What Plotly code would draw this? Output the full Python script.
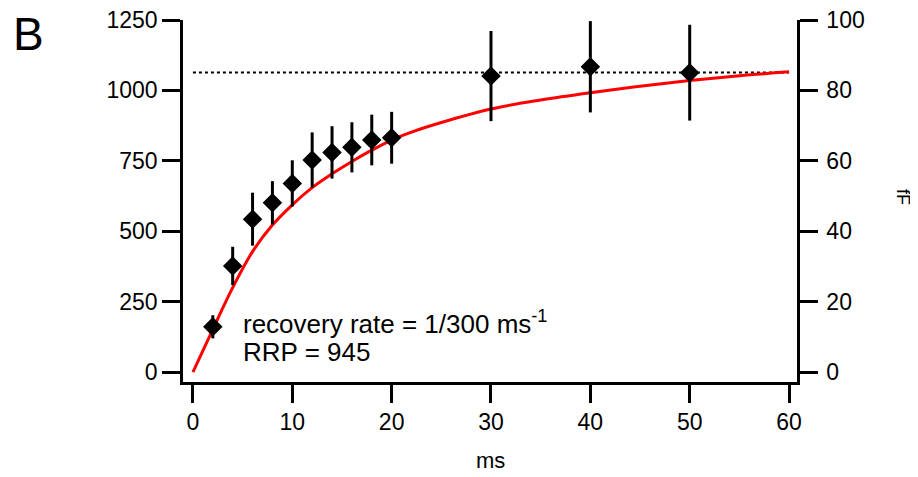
import plotly.graph_objects as go

# Measured recovery data (ms vs. response on left axis)
t_ms = [2, 4, 6, 8, 10, 12, 14, 16, 18, 20, 30, 40, 50]
resp = [161, 377, 543, 601, 670, 753, 780, 798, 824, 832, 1051, 1084, 1063]
resp_err = [41, 68, 94, 77, 82, 98, 93, 89, 90, 92, 160, 162, 170]

# Fit curve
fit_t = [0, 2, 4, 6, 8, 10, 12, 14, 16, 18, 20, 22, 25, 30, 35, 40, 45, 50, 55, 60]
fit_y = [0, 152, 300, 428, 522, 594, 655, 704, 748, 788, 824, 852, 886, 934, 966, 992, 1015, 1035, 1052, 1066]

# Plateau line
plateau_t = [0, 60]
plateau_y = [1064, 1064]

x_ticks = [0, 10, 20, 30, 40, 50, 60]
y_ticks = [0, 250, 500, 750, 1000, 1250]
y2_ticks = [0, 20, 40, 60, 80, 100]

FONT = "Arial, 'Liberation Sans', Helvetica, sans-serif"

fig = go.Figure()
fig.add_trace(go.Scatter(x=plateau_t, y=plateau_y, mode="lines",
                         line=dict(color="black", width=2, dash="dot"),
                         showlegend=False, hoverinfo="skip"))
fig.add_trace(go.Scatter(x=fit_t, y=fit_y, mode="lines",
                         line=dict(color="#ff0000", width=3, shape="spline", smoothing=1.0),
                         showlegend=False))
fig.add_trace(go.Scatter(x=t_ms, y=resp, mode="markers",
                         marker=dict(symbol="diamond", size=15, color="black"),
                         error_y=dict(type="data", array=resp_err, visible=True,
                                      color="black", thickness=3, width=0),
                         showlegend=False))
fig.add_trace(go.Scatter(x=[0], y=[0], yaxis="y2", mode="markers",
                         marker=dict(size=1, opacity=0), showlegend=False, hoverinfo="skip"))

axis_common = dict(showline=True, linecolor="black", linewidth=2.5, ticks="outside",
                   ticklen=18, tickwidth=2.5, tickcolor="black", showgrid=False,
                   zeroline=False, ticklabeloverflow="allow", automargin=False,
                   tickfont=dict(family=FONT, size=23, color="black"))

# The page adds an 8px body margin, so the figure is 8px smaller than the window
fig.update_layout(
    width=910, height=469,
    margin=dict(l=175, r=121, t=12, b=95, autoexpand=False),
    paper_bgcolor="white", plot_bgcolor="white",
    font=dict(family=FONT, color="black"),
    xaxis=dict(range=[-1, 60.8], tickvals=x_ticks, **axis_common),
    yaxis=dict(range=[-35, 1250], tickvals=y_ticks, **axis_common),
    yaxis2=dict(range=[-2.8, 100], tickvals=y2_ticks, overlaying="y", side="right",
                ticklabelstandoff=4, **axis_common),
    annotations=[
        dict(text="B", xref="paper", yref="paper", x=(28 - 183) / 614, y=(382 - 34) / 362,
             showarrow=False, font=dict(size=46, family=FONT), xanchor="center", yanchor="middle",
             borderpad=0),
        dict(text="ms", xref="paper", yref="paper", x=(490 - 183) / 614, y=(382 - 460) / 362,
             showarrow=False, font=dict(size=22, family=FONT), xanchor="center", yanchor="middle"),
        dict(text="fF", xref="paper", yref="paper", x=(903 - 183) / 614, y=(382 - 197) / 362,
             showarrow=False, textangle=90, font=dict(size=18, family=FONT),
             xanchor="center", yanchor="middle"),
        dict(text="recovery rate = 1/300 ms<sup>-1</sup>", xref="x", yref="y", x=4.8, y=176,
             showarrow=False, font=dict(size=26, family=FONT), xanchor="left", yanchor="middle"),
        dict(text="RRP = 945", xref="x", yref="y", x=4.8, y=72,
             showarrow=False, font=dict(size=26, family=FONT), xanchor="left", yanchor="middle"),
    ],
)

fig.write_html("out.html")
